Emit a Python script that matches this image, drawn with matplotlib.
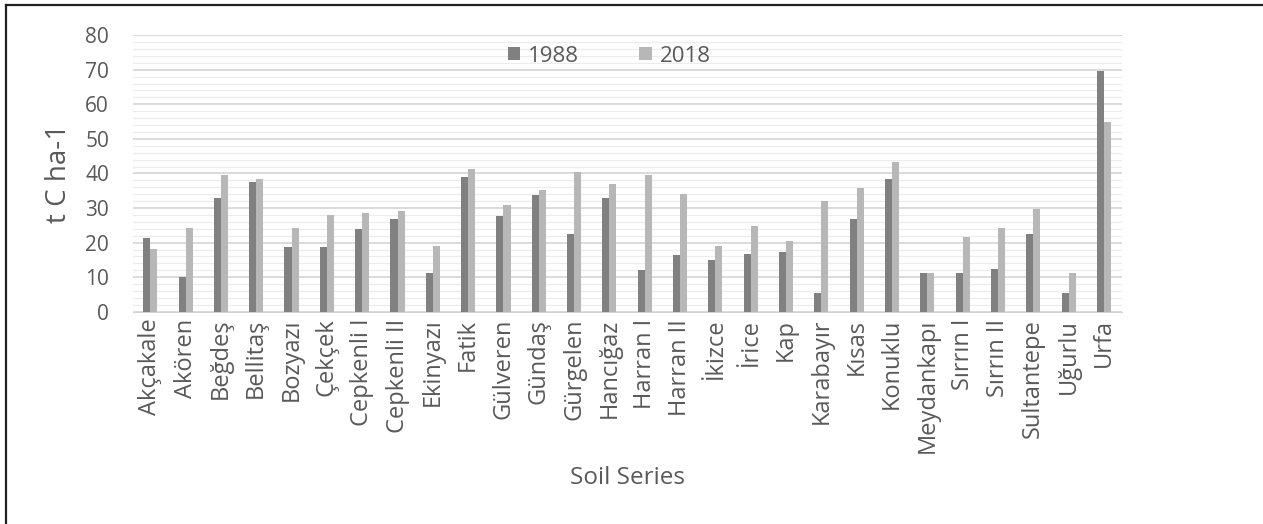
import matplotlib.pyplot as plt
import numpy as np
from matplotlib.lines import Line2D
from matplotlib.ticker import MultipleLocator

plt.rcParams["font.family"] = ["Open Sans", "DejaVu Sans"]

series_names = [
    "Akçakale", "Akören", "Beğdeş", "Bellitaş", "Bozyazı", "Çekçek",
    "Cepkenli I", "Cepkenli II", "Ekinyazı", "Fatik", "Gülveren", "Gündaş",
    "Gürgelen", "Hancığaz", "Harran I", "Harran II", "İkizce", "İrice",
    "Kap", "Karabayır", "Kısas", "Konuklu", "Meydankapı", "Sırrın I",
    "Sırrın II", "Sultantepe", "Uğurlu", "Urfa",
]
carbon_1988 = [
    21.4, 10.2, 32.8, 37.5, 18.7, 18.7, 23.9, 26.7, 11.1, 38.9, 27.7, 33.7,
    22.4, 32.8, 12.0, 16.3, 14.9, 16.8, 17.3, 5.5, 26.7, 38.4, 11.1, 11.1,
    12.5, 22.5, 5.5, 69.7,
]
carbon_2018 = [
    18.1, 24.3, 39.5, 38.4, 24.3, 28.1, 28.6, 29.1, 19.0, 41.2, 30.9, 35.1,
    40.3, 37.0, 39.5, 34.2, 19.1, 24.8, 20.5, 31.9, 35.7, 43.2, 11.1, 21.7,
    24.3, 29.7, 11.1, 54.9,
]

TEXT = "#595959"
C1988 = "#808080"
C2018 = "#b7b7b7"

fig = plt.figure(figsize=(12.63, 5.24), dpi=100)
ax = fig.add_axes([0.105, 0.405, 0.783, 0.528])

x = np.arange(len(series_names))
w = 0.2
ax.bar(x - w / 2, carbon_1988, width=w, color=C1988, label="1988", zorder=3)
ax.bar(x + w / 2, carbon_2018, width=w, color=C2018, label="2018", zorder=3)

ax.set_xlim(-0.5, len(series_names) - 0.5)
ax.set_ylim(0, 80)
ax.yaxis.set_major_locator(MultipleLocator(10))
ax.yaxis.set_minor_locator(MultipleLocator(2))
ax.grid(axis="y", which="major", color="#d4d4d4", linewidth=1.2, zorder=0)
ax.grid(axis="y", which="minor", color="#ececec", linewidth=0.9, zorder=0)

for side in ["top", "right", "left"]:
    ax.spines[side].set_visible(False)
ax.spines["bottom"].set_color("#d4d4d4")
ax.tick_params(axis="both", which="both", length=0, colors=TEXT)
ax.tick_params(axis="y", labelsize=15, pad=17)
ax.set_xticks(x)
ax.set_xticklabels(series_names, rotation=90, fontsize=17)
ax.tick_params(axis="x", pad=5)

ax.set_ylabel("t C ha-1", fontsize=20, color=TEXT)
ax.yaxis.label.set_va("center")
ax.yaxis.set_label_coords(-0.0745, 0.5)
ax.set_xlabel("Soil Series", fontsize=17.5, color=TEXT)
ax.xaxis.label.set_va("center")
ax.xaxis.set_label_coords(0.5, -0.6)

ax.legend(loc="center", bbox_to_anchor=(0.482, 0.924), ncol=2, frameon=False,
          fontsize=16, labelcolor=TEXT, handlelength=0.55, handleheight=0.55,
          handletextpad=0.36, columnspacing=2.7)

# outer frame on the top and left edges
fig.add_artist(Line2D([0.005, 1.0], [0.99, 0.99], transform=fig.transFigure,
                      color="#222222", linewidth=1.6))
fig.add_artist(Line2D([0.005, 0.005], [0.0, 0.99], transform=fig.transFigure,
                      color="#222222", linewidth=1.6))

fig.savefig("out.png", dpi=100, facecolor="white")
